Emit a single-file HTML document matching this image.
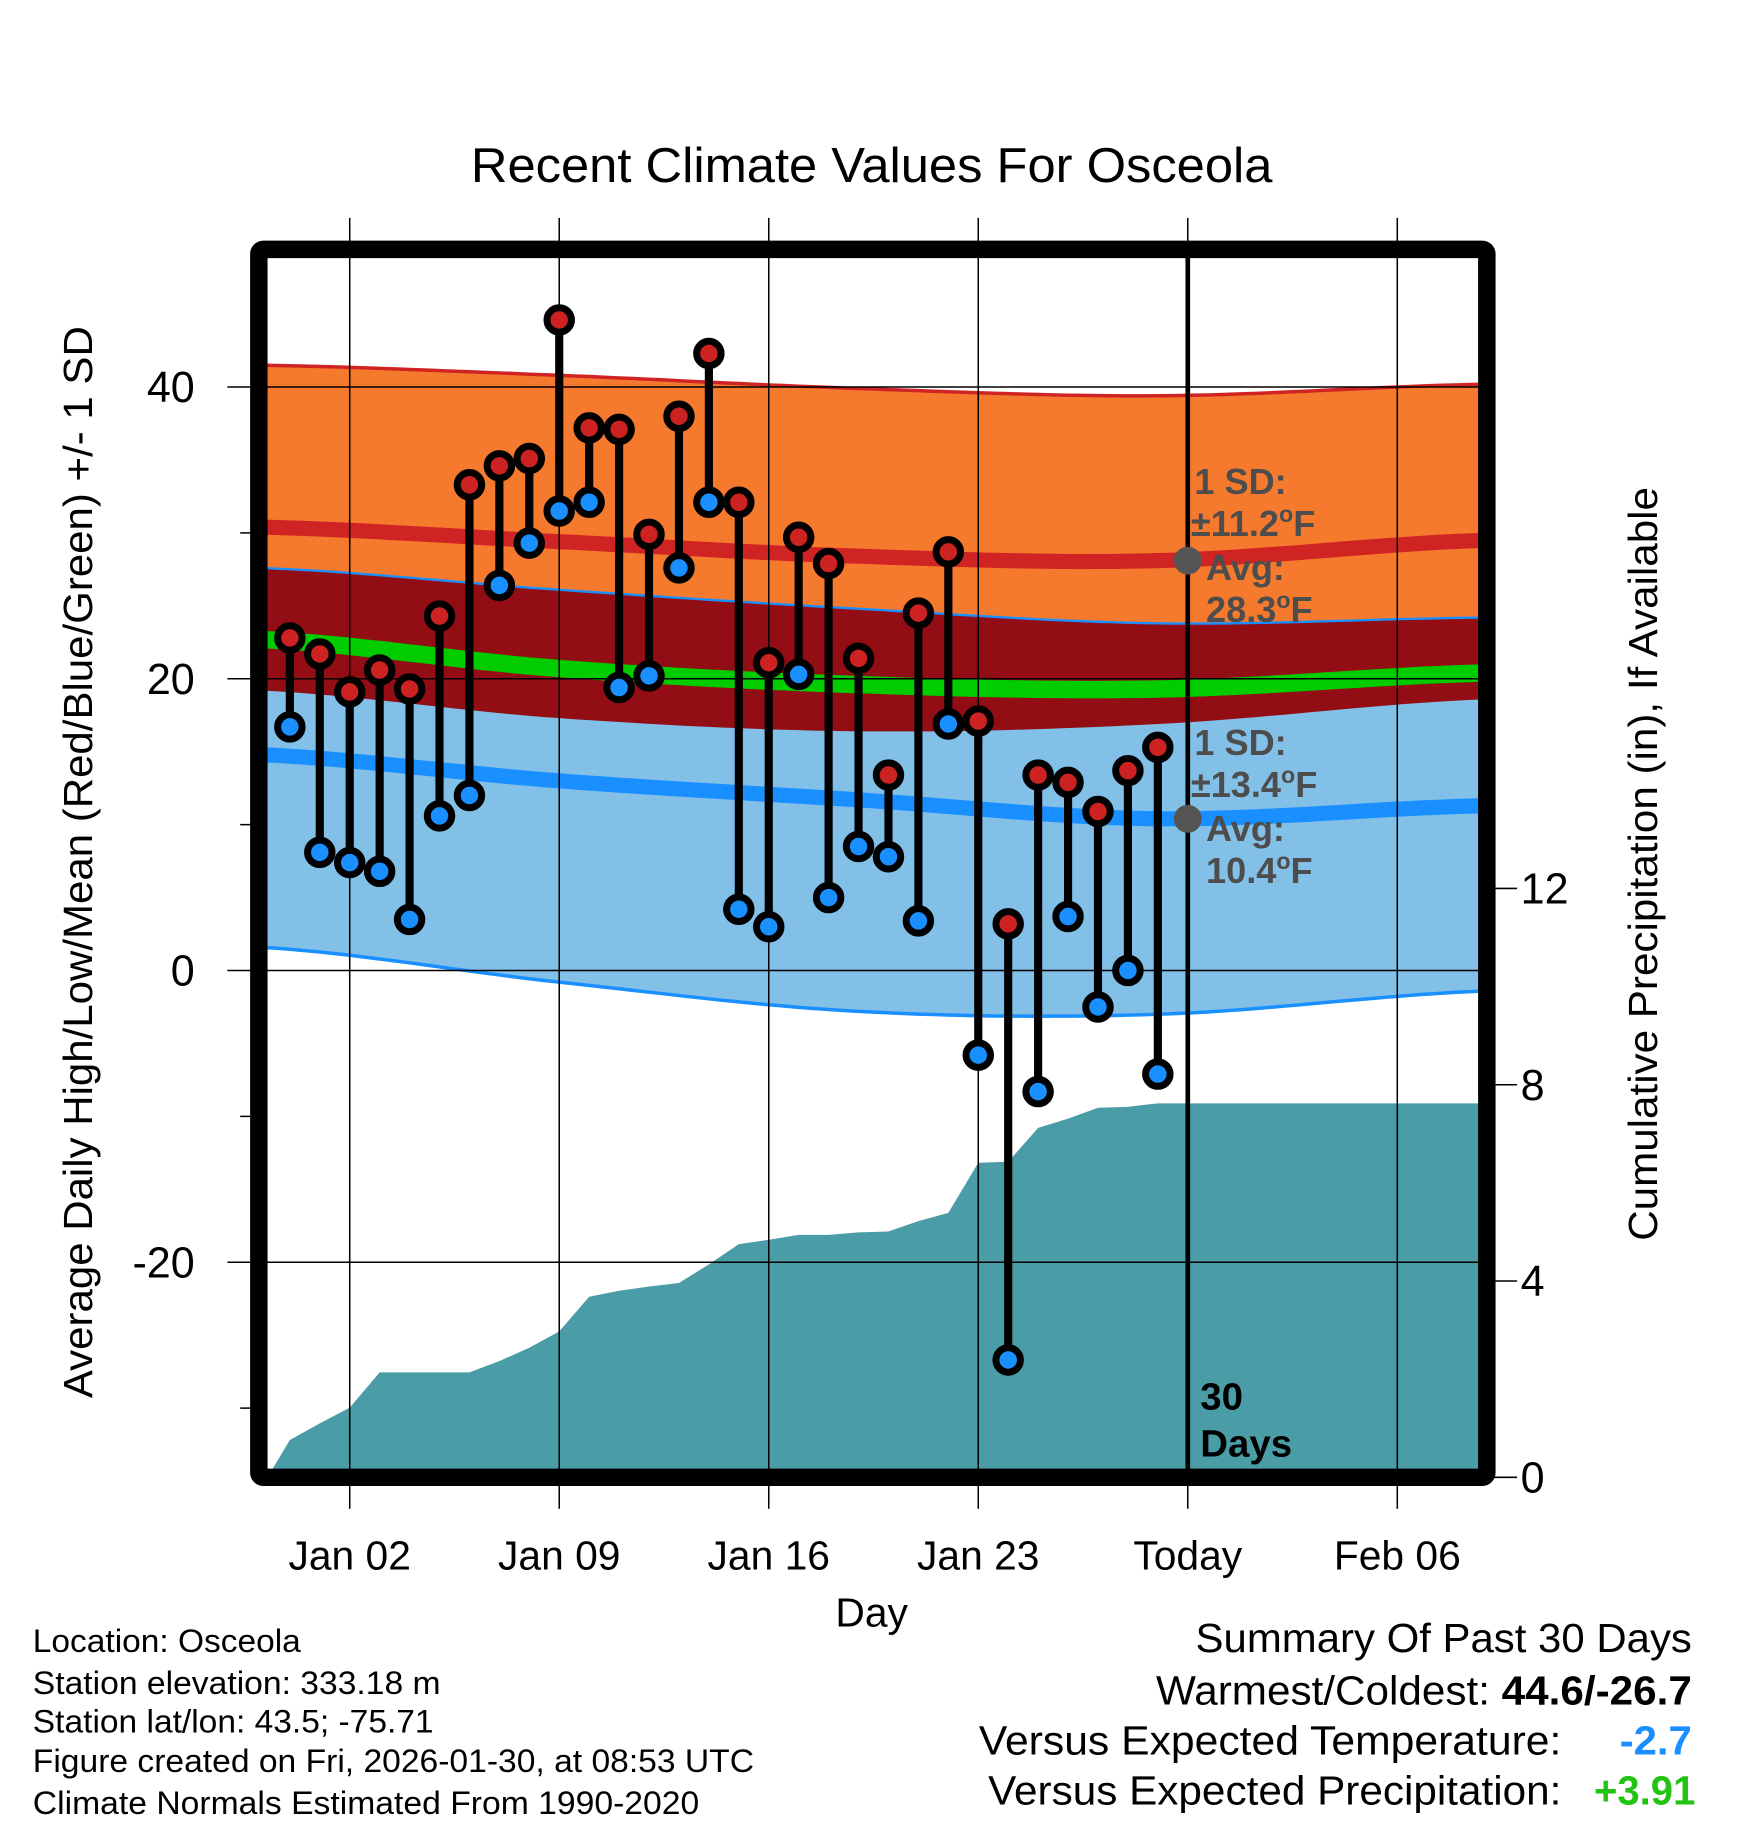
<!DOCTYPE html>
<html><head><meta charset="utf-8"><style>
html,body{margin:0;padding:0;background:#fff;}
svg{display:block;font-family:"Liberation Sans",Arial,sans-serif;}
</style></head><body>
<svg id="chart" width="1748" height="1828" viewBox="0 0 1500 1569" xmlns="http://www.w3.org/2000/svg">
<defs><clipPath id="plotclip"><rect x="222" y="214" width="1054" height="1054"/></clipPath></defs>
<rect x="0" y="0" width="1500" height="1569" fill="#fff"/>
<text x="404" y="156" font-size="42" textLength="688" lengthAdjust="spacingAndGlyphs">Recent Climate Values For Osceola</text>
<g id="fills" clip-path="url(#plotclip)"></g>
<g id="grid"></g>
<g id="marks"></g>
<g id="annot"></g>
<rect x="222" y="214" width="1054" height="1054" fill="none" stroke="#000" stroke-width="15" rx="4"/>
<g id="axes"></g>
<text transform="translate(79,1200) rotate(-90)" font-size="35" textLength="920" lengthAdjust="spacingAndGlyphs">Average Daily High/Low/Mean (Red/Blue/Green) +/- 1 SD</text>
<text transform="translate(1422,1065) rotate(-90)" font-size="35" textLength="647" lengthAdjust="spacingAndGlyphs">Cumulative Precipitation (in), If Available</text>
<text x="748" y="1396" font-size="35" text-anchor="middle">Day</text>
<g font-size="28">
<text x="28" y="1418" textLength="230" lengthAdjust="spacingAndGlyphs">Location: Osceola</text>
<text x="28" y="1454" textLength="350" lengthAdjust="spacingAndGlyphs">Station elevation: 333.18 m</text>
<text x="28" y="1487" textLength="344" lengthAdjust="spacingAndGlyphs">Station lat/lon: 43.5; -75.71</text>
<text x="28" y="1521" textLength="619" lengthAdjust="spacingAndGlyphs">Figure created on Fri, 2026-01-30, at 08:53 UTC</text>
<text x="28" y="1557" textLength="572" lengthAdjust="spacingAndGlyphs">Climate Normals Estimated From 1990-2020</text>
</g>
<g font-size="35">
<text x="1026" y="1418" textLength="426" lengthAdjust="spacingAndGlyphs">Summary Of Past 30 Days</text>
<text x="992" y="1463" textLength="460" lengthAdjust="spacingAndGlyphs">Warmest/Coldest: <tspan font-weight="bold">44.6/-26.7</tspan></text>
<text x="840" y="1506" textLength="500" lengthAdjust="spacingAndGlyphs">Versus Expected Temperature:</text>
<text x="1390" y="1506" font-weight="bold" fill="#1a8fff" textLength="62" lengthAdjust="spacingAndGlyphs">-2.7</text>
<text x="848" y="1549" textLength="492" lengthAdjust="spacingAndGlyphs">Versus Expected Precipitation:</text>
<text x="1368" y="1549" font-weight="bold" fill="#22c414" textLength="87" lengthAdjust="spacingAndGlyphs">+3.91</text>
</g>
</svg>
<script>
const days = [0,1,2,3,4,5,6,7,8,9,10,11,12,13,14,15,16,17,18,19,20,21,22,23,24,25,26,27,28,29];
const highs = [22.8,21.7,19.1,20.6,19.3,24.3,33.3,34.6,35.1,44.6,37.2,37.1,29.9,38.0,42.3,32.1,21.1,29.7,27.9,21.4,13.4,24.5,28.7,17.1,3.2,13.4,12.9,10.9,13.7,15.3];
const lows = [16.7,8.1,7.4,6.8,3.5,10.6,12.0,26.4,29.3,31.5,32.1,19.4,20.2,27.6,32.1,4.2,3.0,20.3,5.0,8.5,7.8,3.4,16.9,-5.8,-26.7,-8.3,3.7,-2.5,0.0,-7.1];
const precip = [0.76,1.10,1.42,2.14,2.14,2.14,2.14,2.37,2.64,2.97,3.68,3.80,3.89,3.96,4.34,4.75,4.84,4.94,4.94,4.99,5.01,5.22,5.39,6.41,6.43,7.12,7.31,7.53,7.55,7.62];
const normDays = [-1,9,19,29,40];
const highPlusSD = [41.5,40.8,39.9,39.4,40.2];
const highMean = [30.4,29.4,28.4,28.1,29.5];
const highMinusSD = [19.2,17.3,16.4,16.9,18.6];
const lowPlusSD = [27.6,26.1,24.8,23.8,24.2];
const meanTemp = [22.7,20.7,19.6,19.3,20.4];
const lowMean = [14.8,13.0,11.7,10.4,11.3];
const lowMinusSD = [1.6,-0.8,-2.8,-3.0,-1.4];
const xTickDays = [2,9,16,23,30,37];
const xTickLabels = ["Jan 02","Jan 09","Jan 16","Jan 23","Today","Feb 06"];
const yTicks = [40,20,0,-20];
const yMinor = [30,10,-10,-30];
const pTicks = [0,4,8,12];

const xS = d => 300 + (d-2)*25.69;
const yT = v => 833 - 12.52*v;
const yP = p => 1268 - 42.12*p;
const NS = "http://www.w3.org/2000/svg";
function mk(tag, parent, attrs){const e=document.createElementNS(NS,tag);for(const k in attrs)e.setAttribute(k,attrs[k]);parent.appendChild(e);return e;}
function smoothPts(vals){
  const pts=[];
  for(let i=0;i<normDays.length-1;i++){
    const p0=vals[Math.max(i-1,0)],p1=vals[i],p2=vals[i+1],p3=vals[Math.min(i+2,vals.length-1)];
    const d1=normDays[i],d2=normDays[i+1];
    for(let t=0;t<1;t+=0.05){
      const t2=t*t,t3=t2*t;
      const v=0.5*((2*p1)+(-p0+p2)*t+(2*p0-5*p1+4*p2-p3)*t2+(-p0+3*p1-3*p2+p3)*t3);
      pts.push([xS(d1+(d2-d1)*t),yT(v)]);
    }
  }
  pts.push([xS(normDays[normDays.length-1]),yT(vals[vals.length-1])]);
  return pts;
}
function band(upper,lower){const a=smoothPts(upper),b=smoothPts(lower).reverse();return "M"+a.concat(b).map(p=>p[0].toFixed(1)+","+p[1].toFixed(1)).join("L")+"Z";}
function line(vals){return "M"+smoothPts(vals).map(p=>p[0].toFixed(1)+","+p[1].toFixed(1)).join("L");}

const fills=document.getElementById('fills');
let e;
e=mk('path',fills,{d:band(highPlusSD,highMinusSD),fill:'#f57a2e'});


e=mk('path',fills,{d:band(lowPlusSD,lowMinusSD),fill:'#82c0e8'});


e=mk('path',fills,{d:band(lowPlusSD,highMinusSD),fill:'#930d15'});


e=mk('path',fills,{d:line(highPlusSD),fill:'none',stroke:'#d02424','stroke-width':3});


e=mk('path',fills,{d:line(lowPlusSD),fill:'none',stroke:'#1a8fff','stroke-width':2});


e=mk('path',fills,{d:line(lowMinusSD),fill:'none',stroke:'#1a8fff','stroke-width':3});


e=mk('path',fills,{d:line(highMean),fill:'none',stroke:'#d02424','stroke-width':13});


e=mk('path',fills,{d:line(meanTemp),fill:'none',stroke:'#00cc00','stroke-width':15});


e=mk('path',fills,{d:line(lowMean),fill:'none',stroke:'#1a8fff','stroke-width':13});


let pd="M"+xS(-0.75)+","+yP(0);
days.forEach((d,i)=>{pd+="L"+xS(d).toFixed(1)+","+yP(precip[i]).toFixed(1);});
pd+="L"+xS(41)+","+yP(precip[precip.length-1]).toFixed(1)+"L"+xS(41)+","+yP(-1)+"L"+xS(-0.75)+","+yP(-1)+"Z";
e=mk('path',fills,{d:pd,fill:'#4a9ca6'});



const grid=document.getElementById('grid');
xTickDays.forEach(d=>{
  e=mk('line',grid,{x1:xS(d),x2:xS(d),y1:187,y2:1295,stroke:'#000','stroke-width':1.3});
  
  
});
yTicks.forEach(v=>{
  e=mk('line',grid,{x1:195,x2:1276,y1:yT(v),y2:yT(v),stroke:'#000','stroke-width':1.3});
  
  
});

const marks=document.getElementById('marks');
e=mk('line',marks,{x1:xS(30),x2:xS(30),y1:214,y2:1268,stroke:'#000','stroke-width':4});


days.forEach((d,i)=>{
  const x=xS(d);
  e=mk('line',marks,{x1:x,x2:x,y1:yT(highs[i]),y2:yT(lows[i]),stroke:'#000','stroke-width':7});
  
  
  e=mk('circle',marks,{cx:x,cy:yT(highs[i]),r:10.5,fill:'#cc2222',stroke:'#000','stroke-width':6});
  
  
  e=mk('circle',marks,{cx:x,cy:yT(lows[i]),r:10.5,fill:'#1a8fff',stroke:'#000','stroke-width':6});
  
  
});

const an=document.getElementById('annot');
e=mk('circle',an,{cx:xS(30),cy:yT(highMean[3]),r:12,fill:'#555'});


e=mk('circle',an,{cx:xS(30),cy:yT(lowMean[3]),r:12,fill:'#555'});


const ann=[["1 SD:",1025,424],["±11.2<tspan dy='-12' font-size='20'>o</tspan><tspan dy='12'>F</tspan>",1022,460],["Avg:",1035,498],["28.3<tspan dy='-12' font-size='20'>o</tspan><tspan dy='12'>F</tspan>",1035,534],
["1 SD:",1025,648],["±13.4<tspan dy='-12' font-size='20'>o</tspan><tspan dy='12'>F</tspan>",1022,684],["Avg:",1035,722],["10.4<tspan dy='-12' font-size='20'>o</tspan><tspan dy='12'>F</tspan>",1035,758]];
ann.forEach(a=>{
  e=mk('text',an,{x:a[1],y:a[2],'font-size':31,'font-weight':'bold',fill:'#4d4d4d'});
  e.innerHTML=a[0];
  
  
});
e=mk('text',an,{x:1030,y:1210,'font-size':33,'font-weight':'bold'});e.textContent="30";


e=mk('text',an,{x:1030,y:1250,'font-size':33,'font-weight':'bold'});e.textContent="Days";



const axes=document.getElementById('axes');
xTickDays.forEach((d,i)=>{
  e=mk('text',axes,{x:xS(d),y:1347,'font-size':35,'text-anchor':'middle'});
  e.textContent=xTickLabels[i];
  
  
});
yTicks.forEach(v=>{
  e=mk('text',axes,{x:167,y:yT(v)+13,'font-size':37,'text-anchor':'end'});
  e.textContent=v;
  
  
});
yMinor.forEach(v=>{
  e=mk('line',axes,{x1:206,x2:216,y1:yT(v),y2:yT(v),stroke:'#000','stroke-width':1.3});
  
  
});
pTicks.forEach(p=>{
  e=mk('line',axes,{x1:1276,x2:1302,y1:yP(p),y2:yP(p),stroke:'#000','stroke-width':1.3});
  
  
  e=mk('text',axes,{x:1305,y:yP(p)+13,'font-size':37});
  e.textContent=p;
  
  
});
</script>
</body></html>
